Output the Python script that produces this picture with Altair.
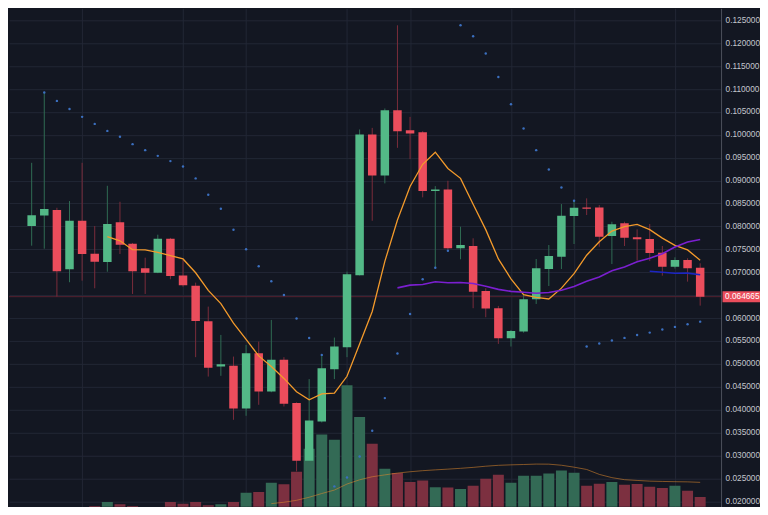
import altair as alt
import pandas as pd

# ---------------- data ----------------
opens = [0.08009, 0.0824, 0.08358, 0.07065, 0.08125, 0.07405, 0.07224, 0.08089, 0.07623, 0.07087,
         0.06991, 0.07732, 0.0693, 0.06707, 0.05932, 0.04941, 0.04957, 0.04026, 0.05233, 0.04396,
         0.05087, 0.04143, 0.02885, 0.03742, 0.04885, 0.05364, 0.06934, 0.10008, 0.09114, 0.10538,
         0.10102, 0.10058, 0.08772, 0.08809, 0.07523, 0.07573, 0.06592, 0.06215, 0.0556, 0.05704,
         0.06411, 0.07071, 0.0734, 0.08227, 0.08416, 0.08416, 0.07791, 0.08068, 0.07762, 0.07726,
         0.07427, 0.07121, 0.07268, 0.071]
highs = [0.09389, 0.10924, 0.08408, 0.08554, 0.09389, 0.08009, 0.08887, 0.08539, 0.0764, 0.07318,
         0.0782, 0.0775, 0.07268, 0.06773, 0.0625, 0.05632, 0.05159, 0.05414, 0.05486, 0.05959,
         0.05146, 0.0416, 0.04667, 0.05196, 0.05574, 0.07012, 0.10117, 0.10152, 0.10575, 0.12391,
         0.10392, 0.1008, 0.08881, 0.08997, 0.07994, 0.07741, 0.0665, 0.06265, 0.0574, 0.0652,
         0.07289, 0.07595, 0.08488, 0.08576, 0.08613, 0.08467, 0.08103, 0.08103, 0.07937, 0.08052,
         0.07573, 0.07326, 0.07305, 0.07196]
lows = [0.0758, 0.07514, 0.06468, 0.06782, 0.06816, 0.0665, 0.07012, 0.07399, 0.06526, 0.06526,
        0.0698, 0.06847, 0.06685, 0.05146, 0.04723, 0.04739, 0.03779, 0.03866, 0.04106, 0.0438,
        0.04069, 0.02652, 0.0285, 0.0372, 0.04667, 0.05146, 0.0693, 0.08124, 0.0894, 0.09716,
        0.0947, 0.08635, 0.07087, 0.075, 0.07283, 0.06215, 0.06018, 0.05436, 0.05378, 0.0568,
        0.06308, 0.067, 0.07071, 0.07616, 0.08249, 0.07557, 0.0718, 0.07573, 0.07252, 0.07246,
        0.06925, 0.0708, 0.06795, 0.06271]
closes = [0.08242, 0.0838, 0.07021, 0.08125, 0.07399, 0.0723, 0.08052, 0.07601, 0.07021, 0.06991,
          0.07732, 0.06919, 0.06716, 0.05938, 0.04913, 0.04994, 0.04026, 0.05233, 0.04396, 0.05087,
          0.04128, 0.02885, 0.03764, 0.04906, 0.05377, 0.06956, 0.10008, 0.09114, 0.10538, 0.1008,
          0.1003, 0.08772, 0.08809, 0.07523, 0.07595, 0.06576, 0.06206, 0.0556, 0.0572, 0.06411,
          0.07087, 0.07355, 0.08233, 0.08408, 0.08386, 0.07776, 0.08046, 0.07754, 0.07719, 0.0742,
          0.07121, 0.07268, 0.07087, 0.064665]
volumes = [1.3, 2.0, 2.7, 3.3, 4.3, 6.7, 10.7, 8.3, 6.7, 2.7,
           5.0, 10.7, 9.0, 10.7, 7.3, 8.3, 10.7, 20.0, 20.7, 30.0,
           28.5, 41.0, 64.0, 78.3, 73.0, 127.7, 95.7, 69.0, 44.0, 39.7,
           30.7, 32.3, 25.5, 25.3, 23.7, 27.0, 34.0, 38.0, 30.0, 37.0,
           37.0, 39.3, 42.3, 40.0, 27.0, 29.0, 30.7, 28.0, 28.7, 26.0,
           24.7, 27.0, 22.0, 15.7]
sar = [None, 0.10924, 0.10741, 0.10566, 0.10392, 0.10239, 0.10086, 0.09956, 0.09797, 0.09666,
       0.09541, 0.09426, 0.0931, 0.09049, 0.08691, 0.08386, 0.07928, 0.07501, 0.07132, 0.06805,
       0.06504, 0.05992, 0.05563, 0.05196, 0.02325, 0.02521, 0.02979, 0.03539, 0.04252, 0.05225,
       0.0609, 0.06847, 0.07097, 0.0747, 0.12391, 0.12151, 0.11774, 0.11264, 0.10669, 0.10139,
       0.09666, 0.09245, 0.08852, 0.0856, 0.05377, 0.05443, 0.05508, 0.05567, 0.05632, 0.05682,
       0.05748, 0.05807, 0.05866, 0.05922]
time_grid = [4, 12, 17, 25, 30, 38, 43, 51]
price_ticks = [0.020, 0.025, 0.030, 0.035, 0.040, 0.045, 0.050, 0.055, 0.060, 0.065, 0.070,
               0.075, 0.080, 0.085, 0.090, 0.095, 0.100, 0.105, 0.110, 0.115, 0.120, 0.125]
last_price = [0.064665]

# ---------------- styling ----------------
BG = "#131722"
GRID = "#222735"
UP = "#53b987"
DOWN = "#eb4d5c"
UP_WICK = "#2f6b53"
DOWN_WICK = "#7a2c3b"
VOL_UP = "#336a55"
VOL_DOWN = "#7c3040"
FONT = "Liberation Sans"
FS = 8.3
W, H = 713, 499

df = pd.DataFrame({
    "i": list(range(len(closes))),
    "open": opens, "high": highs, "low": lows, "close": closes,
    "volume": volumes, "sar": sar,
})
lp_df = pd.DataFrame({"p": last_price})

x_scale = alt.Scale(domain=[-1.797, 54.655], nice=False, zero=False, padding=0)
p_scale = alt.Scale(domain=[0.018823, 0.127616], nice=False, zero=False, padding=0)
v_scale = alt.Scale(domain=[6, 505], nice=False, zero=False, padding=0)

x_axis = alt.Axis(values=time_grid, grid=True, gridColor=GRID, gridWidth=1,
                  labels=False, ticks=False, domain=False, title=None)
X = alt.X("i:Q", scale=x_scale, axis=x_axis)

y_axis = alt.Axis(orient="right", values=price_ticks, format=".6f", grid=True,
                  gridColor=GRID, gridWidth=1, domain=True, domainColor="#4b4f5b",
                  ticks=False, labelColor="#c3c6cd", labelFont=FONT, labelFontSize=FS,
                  labelPadding=4, title=None)

up_test = "datum.close >= datum.open"
base = alt.Chart(df)

vol = base.mark_bar(size=11, clip=True).encode(
    x=X,
    y=alt.Y("volume:Q", scale=v_scale, axis=None),
    color=alt.condition(up_test, alt.value(VOL_UP), alt.value(VOL_DOWN)),
)

vol_ma = base.transform_window(
    vma="mean(volume)", frame=[-19, 0], sort=[alt.SortField("i")]
).transform_filter("datum.i >= 19").mark_line(
    color="#e08a2e", strokeWidth=1, opacity=0.55, clip=True
).encode(x=X, y=alt.Y("vma:Q", scale=v_scale, axis=None))

price_line = alt.Chart(lp_df).mark_rule(color="#55202f", strokeWidth=1).encode(
    y=alt.Y("p:Q", scale=p_scale, axis=None)
)

wicks = base.mark_rule(strokeWidth=1, clip=True).encode(
    x=X,
    y=alt.Y("low:Q", scale=p_scale, axis=y_axis),
    y2="high:Q",
    color=alt.condition(up_test, alt.value(UP_WICK), alt.value(DOWN_WICK)),
)

bodies = base.mark_bar(size=8.5, clip=True).encode(
    x=X,
    y=alt.Y("open:Q", scale=p_scale, axis=None),
    y2="close:Q",
    color=alt.condition(up_test, alt.value(UP), alt.value(DOWN)),
)


def sma(n, color, width):
    return base.transform_window(
        ma="mean(close)", frame=[-(n - 1), 0], sort=[alt.SortField("i")]
    ).transform_filter(f"datum.i >= {n - 1}").mark_line(
        color=color, strokeWidth=width, clip=True
    ).encode(x=X, y=alt.Y("ma:Q", scale=p_scale, axis=None))


sma7 = sma(7, "#f39a2b", 1.3)
sma30 = sma(30, "#7b1fd0", 1.6)
sma50 = sma(50, "#1c25c2", 1.6)

sar_pts = base.transform_filter("isValid(datum.sar)").mark_circle(
    size=6, color="#3b6fbf", opacity=1
).encode(x=X, y=alt.Y("sar:Q", scale=p_scale, axis=None))

box = alt.Chart(lp_df).mark_bar(color=DOWN, size=11, orient="horizontal").encode(
    y=alt.Y("p:Q", scale=p_scale, axis=None),
    x=alt.value(W + 1.5), x2=alt.value(752),
)
box_txt = alt.Chart(lp_df).mark_text(
    align="left", baseline="middle", color="white", font=FONT, fontSize=FS
).encode(
    y=alt.Y("p:Q", scale=p_scale, axis=None),
    x=alt.value(W + 4),
    text=alt.Text("p:Q", format=".6f"),
)

chart = alt.layer(
    vol, vol_ma, price_line, wicks, bodies, sma7, sma30, sma50, sar_pts, box, box_txt
).resolve_scale(y="independent").properties(
    width=W, height=H, background=BG, padding=0
).configure_view(stroke=None)

chart.save("out.html", embed_options={"renderer": "svg", "actions": False})
